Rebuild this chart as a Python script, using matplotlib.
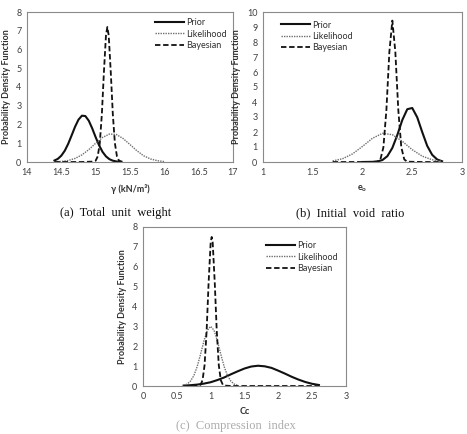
import matplotlib
matplotlib.use("Agg")
import matplotlib.pyplot as plt

# ---------------- data ----------------
# (a) Total unit weight
a_prior_x = [14.40, 14.45, 14.50, 14.55, 14.60, 14.65, 14.70, 14.75, 14.80, 14.85, 14.90,
             14.95, 15.00, 15.05, 15.10, 15.15, 15.20, 15.25, 15.30, 15.35]
a_prior_y = [0.08, 0.17, 0.34, 0.60, 0.97, 1.42, 1.88, 2.26, 2.47, 2.45, 2.20,
             1.79, 1.32, 0.89, 0.54, 0.30, 0.15, 0.07, 0.03, 0.01]
a_like_x = [14.4, 14.5, 14.6, 14.7, 14.8, 14.9, 15.0, 15.1, 15.2, 15.3, 15.4, 15.5,
            15.6, 15.7, 15.8, 15.9, 16.0]
a_like_y = [0.01, 0.03, 0.08, 0.19, 0.38, 0.66, 1.00, 1.31, 1.49, 1.47, 1.25, 0.93,
            0.60, 0.33, 0.16, 0.07, 0.02]
a_bayes_x = [14.40, 14.60, 14.80, 14.95, 15.00, 15.03, 15.06, 15.09, 15.12, 15.15, 15.17,
             15.19, 15.22, 15.25, 15.28, 15.31, 15.34, 15.40]
a_bayes_y = [0.00, 0.00, 0.00, 0.02, 0.07, 0.30, 1.00, 2.54, 4.79, 6.75, 7.20,
             6.75, 4.79, 2.54, 1.00, 0.30, 0.07, 0.00]

# (b) Initial void ratio
b_prior_x = [2.00, 2.10, 2.15, 2.20, 2.25, 2.30, 2.35, 2.40, 2.45, 2.50, 2.55, 2.60,
             2.65, 2.70, 2.75, 2.80]
b_prior_y = [0.00, 0.01, 0.04, 0.13, 0.39, 0.94, 1.80, 2.80, 3.52, 3.60, 2.98, 2.00,
             1.08, 0.48, 0.17, 0.05]
b_like_x = [1.7, 1.8, 1.9, 2.0, 2.1, 2.2, 2.3, 2.4, 2.5, 2.6, 2.7, 2.8]
b_like_y = [0.07, 0.22, 0.54, 1.04, 1.58, 1.91, 1.82, 1.38, 0.82, 0.39, 0.15, 0.04]
b_bayes_x = [1.70, 1.90, 2.10, 2.15, 2.18, 2.21, 2.24, 2.27, 2.30, 2.33, 2.36, 2.39,
             2.42, 2.45, 2.60, 2.80]
b_bayes_y = [0.00, 0.00, 0.00, 0.02, 0.17, 0.98, 3.45, 7.34, 9.43, 7.34, 3.45, 0.98,
             0.17, 0.02, 0.00, 0.00]

# (c) Compression index
c_prior_x = [0.6, 0.7, 0.8, 0.9, 1.0, 1.1, 1.2, 1.3, 1.4, 1.5, 1.6, 1.7, 1.8, 1.9,
             2.0, 2.1, 2.2, 2.3, 2.4, 2.5, 2.6]
c_prior_y = [0.02, 0.04, 0.07, 0.12, 0.19, 0.30, 0.43, 0.59, 0.74, 0.88, 0.98, 1.02,
             0.99, 0.91, 0.77, 0.62, 0.46, 0.32, 0.20, 0.11, 0.05]
c_like_x = [0.60, 0.65, 0.70, 0.75, 0.80, 0.85, 0.90, 0.95, 1.00, 1.05, 1.10, 1.15,
            1.20, 1.25, 1.30, 1.35, 1.40]
c_like_y = [0.03, 0.09, 0.24, 0.51, 0.97, 1.59, 2.26, 2.80, 3.00, 2.80, 2.26, 1.59,
            0.97, 0.51, 0.24, 0.09, 0.03]
c_bayes_x = [0.60, 0.80, 0.85, 0.88, 0.91, 0.94, 0.97, 1.00, 1.015, 1.03, 1.06, 1.09,
             1.12, 1.15, 1.18, 1.21, 1.30, 2.00, 2.60]
c_bayes_y = [0.00, 0.02, 0.06, 0.29, 1.05, 2.76, 5.23, 7.21, 7.50, 7.21, 5.23, 2.76,
             1.05, 0.29, 0.06, 0.02, 0.00, 0.00, 0.00]

series_labels = ["Prior", "Likelihood", "Bayesian"]
captions = ["(a)  Total  unit  weight", "(b)  Initial  void  ratio", "(c)  Compression  index"]
xlabels = ["γ (kN/m³)", "e$_\\mathregular{o}$", "Cc"]
ylabel = "Probability Density Function"

# ---------------- figure ----------------
W, H = 467, 434
fig = plt.figure(figsize=(W / 100, H / 100), dpi=100)
plt.rcParams['font.family'] = ['Lato', 'DejaVu Sans']

def px_axes(l, t, r, b):
    return fig.add_axes([l / W, 1 - b / H, (r - l) / W, (b - t) / H])

tick_color = "#404040"

def style(ax, xlim, xticks, ylim, yticks, xlabel):
    ax.set_xlim(*xlim)
    ax.set_ylim(*ylim)
    ax.set_xticks(xticks)
    ax.set_yticks(yticks)
    ax.set_xticklabels([("%g" % v) for v in xticks])
    ax.set_yticklabels([("%g" % v) for v in yticks])
    ax.tick_params(length=0, labelsize=6.5, colors=tick_color, pad=4)
    for s in ax.spines.values():
        s.set_color("#8a8a8a")
        s.set_linewidth(0.8)
    ax.set_xlabel(xlabel, fontsize=6.5, fontweight="bold", color="#303030", labelpad=5)
    ax.set_ylabel(ylabel, fontsize=6.5, fontweight="bold", color="#303030", labelpad=4)

def draw(ax, px, py, lx, ly, bx, by):
    ax.plot(px, py, color="#111111", lw=1.5, ls="-", label=series_labels[0])
    ax.plot(lx, ly, color="#6f6f6f", lw=1.0, ls=(0, (1, 0.8)), label=series_labels[1])
    ax.plot(bx, by, color="#111111", lw=1.3, ls=(0, (3, 1.5)), label=series_labels[2])

leg_kw = dict(fontsize=6.5, frameon=False, handlelength=3.2, handletextpad=0.2,
              labelspacing=0.25, borderaxespad=0.3, labelcolor="#303030")

# (a)
ax1 = px_axes(27, 12, 233, 162)
draw(ax1, a_prior_x, a_prior_y, a_like_x, a_like_y, a_bayes_x, a_bayes_y)
style(ax1, (14, 17), [14, 14.5, 15, 15.5, 16, 16.5, 17], (0, 8), list(range(0, 9)), xlabels[0])
ax1.legend(loc="upper right", bbox_to_anchor=(1.0, 1.0), **leg_kw)

# (b)
ax2 = px_axes(263, 12, 462, 162)
draw(ax2, b_prior_x, b_prior_y, b_like_x, b_like_y, b_bayes_x, b_bayes_y)
style(ax2, (1, 3), [1, 1.5, 2, 2.5, 3], (0, 10), list(range(0, 11)), xlabels[1])
ax2.legend(loc="upper left", bbox_to_anchor=(0.06, 0.985), **leg_kw)

# (c)
ax3 = px_axes(143, 227, 346, 386)
draw(ax3, c_prior_x, c_prior_y, c_like_x, c_like_y, c_bayes_x, c_bayes_y)
style(ax3, (0, 3), [0, 0.5, 1, 1.5, 2, 2.5, 3], (0, 8), list(range(0, 9)), xlabels[2])
ax3.legend(loc="upper right", bbox_to_anchor=(0.99, 0.95), **leg_kw)

# captions
cap_kw = dict(fontsize=9, family=["Liberation Serif", "DejaVu Serif"], color="#111111",
              ha="center")
fig.text(116 / W, 1 - 213 / H, captions[0], va="center", **cap_kw)
fig.text(350 / W, 1 - 213 / H, captions[1], va="center", **cap_kw)
fig.text(236 / W, 0.004, captions[2], va="bottom", alpha=0.35, **cap_kw)

fig.savefig("out.png", dpi=100, facecolor="white")
